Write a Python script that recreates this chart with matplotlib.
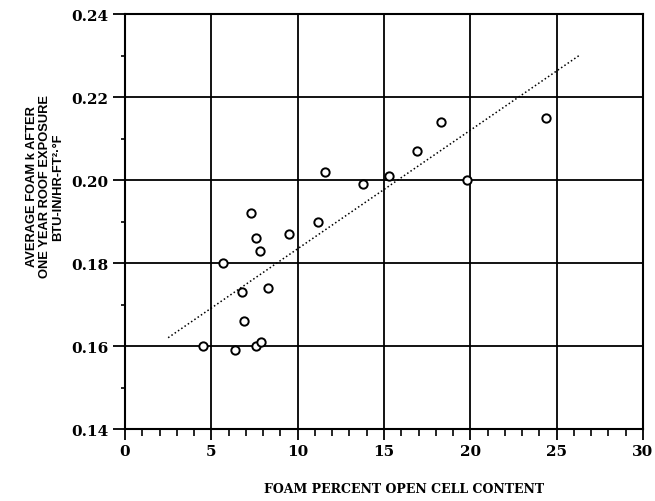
import matplotlib
matplotlib.use('Agg')
import matplotlib.pyplot as plt
from matplotlib.ticker import MultipleLocator, FormatStrFormatter

# DATA
open_cell = [4.5, 5.7, 6.4, 6.8, 6.9, 7.3, 7.6, 7.8, 7.6, 7.9, 8.3, 9.5,
             11.2, 11.6, 13.8, 15.3, 16.9, 18.3, 19.8, 24.4]
foam_k = [0.160, 0.180, 0.159, 0.173, 0.166, 0.192, 0.186, 0.183, 0.160, 0.161, 0.174, 0.187,
          0.190, 0.202, 0.199, 0.201, 0.207, 0.214, 0.200, 0.215]
trend_x = [2.5, 26.3]
trend_y = [0.162, 0.230]

x_ticks = [0, 5, 10, 15, 20, 25, 30]
y_ticks = [0.14, 0.16, 0.18, 0.20, 0.22, 0.24]

# FIGURE
fig = plt.figure(figsize=(6.55, 5.02), dpi=100)
ax = fig.add_axes([0.1908, 0.1434, 0.7909, 0.8267])
fig.patch.set_facecolor('white')

ax.plot(trend_x, trend_y, color='black', linewidth=1.1, linestyle=(0, (1, 1.6)), zorder=3)
ax.plot(open_cell, foam_k, linestyle='none', marker='o', markersize=6,
        markerfacecolor='white', markeredgecolor='black', markeredgewidth=1.4, zorder=4)

# AXES
ax.set_xlim(0, 30)
ax.set_ylim(0.14, 0.24)
ax.set_xticks(x_ticks)
ax.set_yticks(y_ticks)
ax.xaxis.set_minor_locator(MultipleLocator(1))
ax.yaxis.set_minor_locator(MultipleLocator(0.01))
ax.yaxis.set_major_formatter(FormatStrFormatter('%.2f'))
ax.grid(True, which='major', color='black', linewidth=1.3)
ax.set_axisbelow(True)

ax.tick_params(axis='x', which='major', direction='out', length=8, width=1.3, pad=3)
ax.tick_params(axis='x', which='minor', direction='out', length=5, width=1.2)
ax.tick_params(axis='y', which='major', direction='out', length=9, width=1.3, pad=3)
ax.tick_params(axis='y', which='minor', direction='out', length=3, width=1.2)
for lab in ax.get_xticklabels() + ax.get_yticklabels():
    lab.set_fontfamily('DejaVu Serif')
    lab.set_fontweight('bold')
    lab.set_fontsize(11)

for side in ['top', 'bottom', 'left', 'right']:
    ax.spines[side].set_linewidth(1.5)
    ax.spines[side].set_color('black')

# LABELS
fig.text(0.617, 0.012, 'FOAM PERCENT OPEN CELL CONTENT', fontfamily='DejaVu Serif',
         fontweight='bold', fontsize=9, ha='center', va='bottom')
fig.text(0.069, 1 - 187 / 502, 'AVERAGE FOAM k AFTER\nONE YEAR ROOF EXPOSURE\nBTU-IN/HR-FT\u00b2\u00b7\u00b0F',
         fontfamily='Liberation Sans', fontweight='bold', fontsize=9.3, rotation=90,
         ha='center', va='center', multialignment='center', linespacing=1.15)

fig.savefig('out.png', dpi=100)
